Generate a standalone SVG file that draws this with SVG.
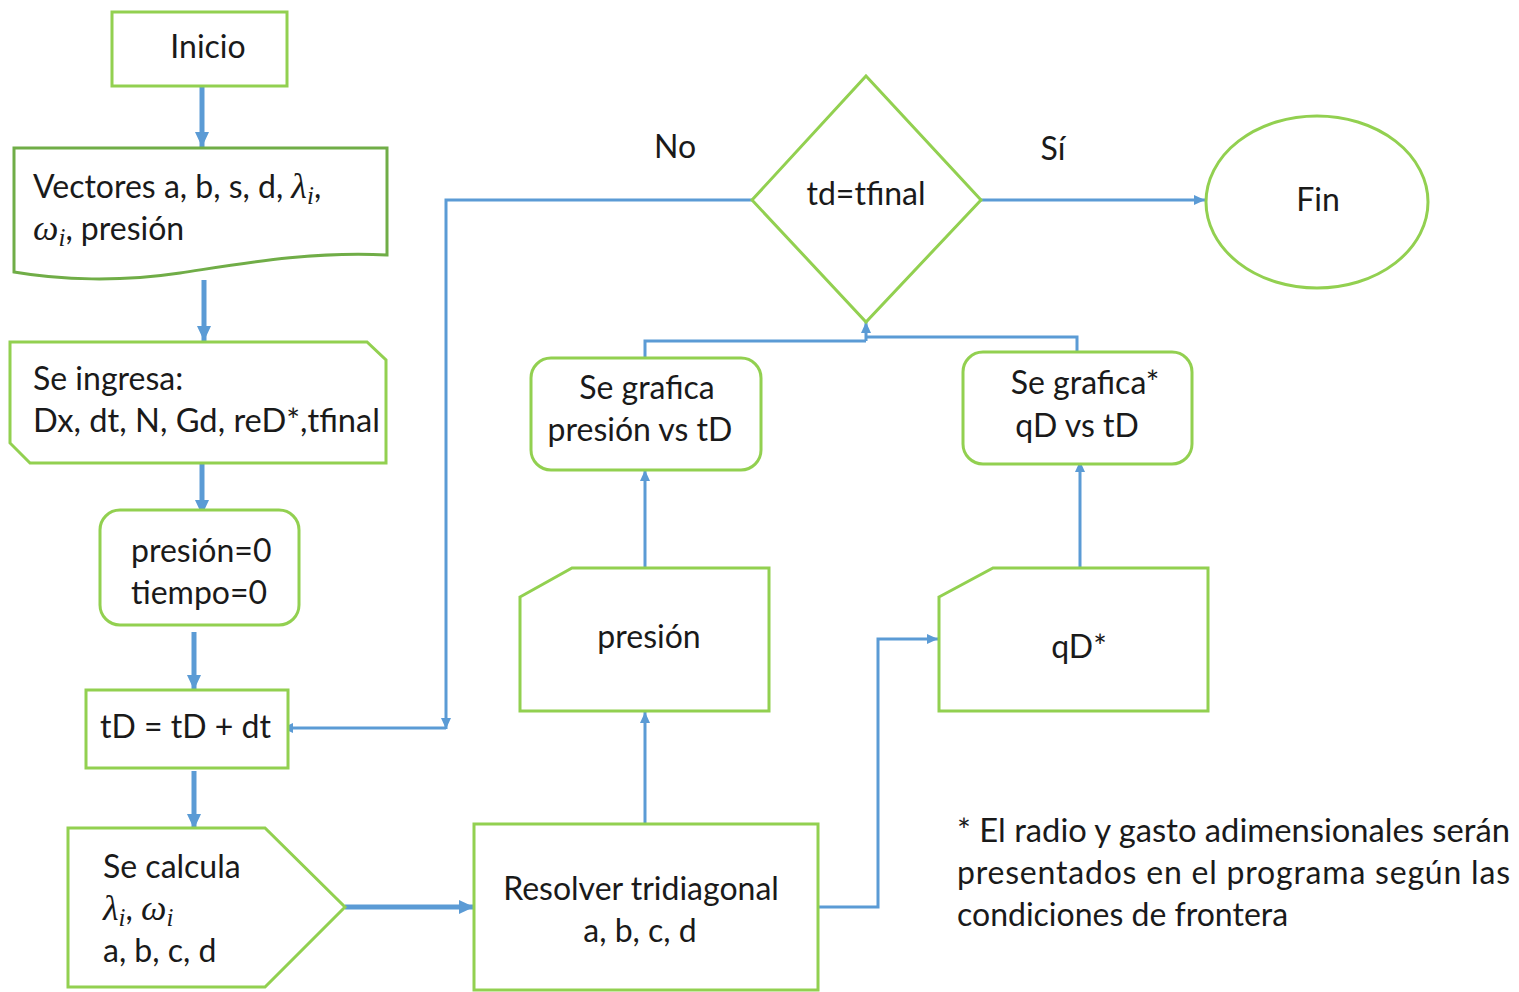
<svg xmlns="http://www.w3.org/2000/svg" width="1519" height="992" viewBox="0 0 1519 992">
<defs>
<style>
.n{fill:#fff;stroke:#92D050;stroke-width:3}
.nd{fill:#fff;stroke:#70AD47;stroke-width:3}
.t{font-family:Lato,"Liberation Sans",sans-serif;font-size:32px;fill:#1a1a1a}
.c{text-anchor:middle}
.m{font-family:"Liberation Serif","DejaVu Serif",serif;font-style:italic;font-size:36px}
.s{font-size:25px}
.thick{fill:none;stroke:#5B9BD5;stroke-width:5}
.thin{fill:none;stroke:#5B9BD5;stroke-width:3}
</style>
<marker id="ah" markerUnits="userSpaceOnUse" markerWidth="16" markerHeight="16" refX="15" refY="8" orient="auto"><path d="M0,1 L15,8 L0,15 z" fill="#5B9BD5"/></marker>
<marker id="as" markerUnits="userSpaceOnUse" markerWidth="12" markerHeight="12" refX="11" refY="6" orient="auto"><path d="M0,1 L11,6 L0,11 z" fill="#5B9BD5"/></marker>
</defs>
<rect width="1519" height="992" fill="#fff"/>

<g id="connectors">
<path class="thick" d="M202,86 V147" marker-end="url(#ah)"/>
<path class="thick" d="M204,280 V341" marker-end="url(#ah)"/>
<path class="thick" d="M202,463 V515" marker-end="url(#ah)"/>
<path class="thick" d="M194,632 V690" marker-end="url(#ah)"/>
<path class="thick" d="M194,771 V829" marker-end="url(#ah)"/>
<path class="thick" d="M345,907 H474" marker-end="url(#ah)"/>
<path class="thin" d="M645,824 V712" marker-end="url(#as)"/>
<path class="thin" d="M645,581 V470" marker-end="url(#as)"/>
<path class="thin" d="M818,907 H878 V639 H938" marker-end="url(#as)"/>
<path class="thin" d="M1080,573 V461" marker-end="url(#as)"/>
<path class="thin" d="M645,358 V341 H866"/>
<path class="thin" d="M1077,352 V337 H866"/>
<path class="thin" d="M866,341 V322" marker-end="url(#as)"/>
<path class="thin" d="M752,200 H446 V729" marker-end="url(#as)"/>
<path class="thin" d="M446,728 H282" marker-end="url(#as)"/>
<path class="thin" d="M981,200 H1205" marker-end="url(#as)"/>
<text class="t" x="675" y="158" text-anchor="middle">No</text>
<text class="t" x="1053" y="160" text-anchor="middle">Sí</text>
</g>

<g id="inicio">
<rect class="n" x="112" y="12" width="175" height="74"/>
<text class="t c" x="208" y="58">Inicio</text>
</g>

<g id="vectores">
<path class="nd" d="M14,148 H387 V255 C310,251 240,264 180,273 C120,282 60,280 14,272 Z"/>
<text class="t" x="33" y="198">Vectores a, b, s, d, <tspan class="m">λ</tspan><tspan class="m s" dy="6">i</tspan><tspan dy="-6">,</tspan></text>
<text class="t" x="33" y="240"><tspan class="m">ω</tspan><tspan class="m s" dy="6">i</tspan><tspan dy="-6">, presión</tspan></text>
</g>

<g id="ingresa">
<path class="n" d="M10,342 H367 L386,360 V463 H30 L10,443 Z"/>
<text class="t" x="33" y="390">Se ingresa:</text>
<text class="t" x="33" y="432" textLength="347" lengthAdjust="spacingAndGlyphs">Dx, dt, N, Gd, reD*,tfinal</text>
</g>

<g id="init">
<rect class="n" x="100" y="510" width="199" height="115" rx="20"/>
<text class="t" x="131" y="562">presión=0</text>
<text class="t" x="131" y="604">tiempo=0</text>
</g>

<g id="td">
<rect class="n" x="86" y="690" width="202" height="78"/>
<text class="t" x="100" y="738">tD = tD + dt</text>
</g>

<g id="calcula">
<path class="n" d="M68,828 H265 L345,907 L265,987 H68 Z"/>
<text class="t" x="103" y="878">Se calcula</text>
<text class="t" x="103" y="920"><tspan class="m">λ</tspan><tspan class="m s" dy="6">i</tspan><tspan dy="-6">, </tspan><tspan class="m">ω</tspan><tspan class="m s" dy="6">i</tspan></text>
<text class="t" x="103" y="962">a, b, c, d</text>
</g>

<g id="resolver">
<rect class="n" x="474" y="824" width="344" height="166"/>
<text class="t c" x="641" y="900">Resolver tridiagonal</text>
<text class="t c" x="640" y="942">a, b, c, d</text>
</g>

<g id="presion">
<path class="n" d="M520,597 L572,568 H769 V711 H520 Z"/>
<text class="t c" x="649" y="648">presión</text>
</g>

<g id="qd">
<path class="n" d="M939,597 L993,568 H1208 V711 H939 Z"/>
<text class="t c" x="1079" y="658">qD*</text>
</g>

<g id="grafica1">
<rect class="n" x="531" y="358" width="230" height="112" rx="20"/>
<text class="t c" x="647" y="399">Se grafica</text>
<text class="t c" x="640" y="441">presión vs tD</text>
</g>

<g id="grafica2">
<rect class="n" x="963" y="352" width="229" height="112" rx="20"/>
<text class="t c" x="1085" y="394">Se grafica*</text>
<text class="t c" x="1077" y="437">qD vs tD</text>
</g>

<g id="decision">
<path class="n" d="M866,76 L981,200 L866,322 L752,200 Z"/>
<text class="t c" x="866" y="205">td=tfinal</text>
</g>

<g id="fin">
<ellipse class="n" cx="1317" cy="202" rx="111" ry="86"/>
<text class="t c" x="1318" y="211">Fin</text>
</g>

<g id="nota">
<text class="t" x="957" y="842" textLength="553" lengthAdjust="spacingAndGlyphs">* El radio y gasto adimensionales serán</text>
<text class="t" x="957" y="884" textLength="553" lengthAdjust="spacing">presentados en el programa según las</text>
<text class="t" x="957" y="926">condiciones de frontera</text>
</g>
</svg>
